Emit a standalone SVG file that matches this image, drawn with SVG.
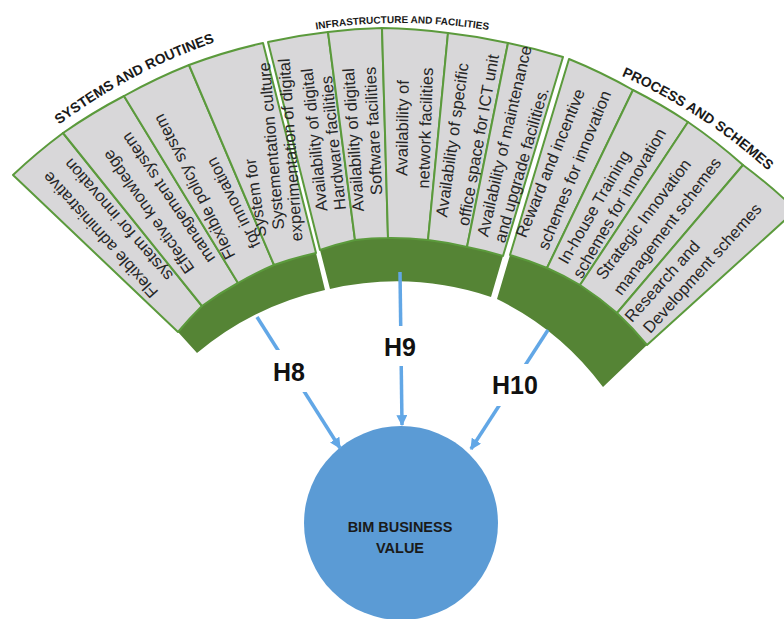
<svg xmlns="http://www.w3.org/2000/svg" width="784" height="619" viewBox="0 0 784 619">
<defs>
<style>
.cell{fill:#d8d7d9;stroke:#5b9a3c;stroke-width:2;stroke-linejoin:round}
.band{fill:#558435}
.t{font-family:"Liberation Sans",Arial,sans-serif;font-size:16.5px;fill:#262626;text-anchor:middle;dominant-baseline:central}
.title{font-family:"Liberation Sans",Arial,sans-serif;font-weight:bold;fill:#1a1a1a;text-anchor:middle}
.arrow{stroke:#62a7e6;stroke-width:3.5;fill:none;marker-end:url(#ah)}
.hl{font-family:"Liberation Sans",Arial,sans-serif;font-weight:bold;font-size:25px;fill:#111;text-anchor:middle}
.lblbox{fill:#fff}
</style>
<marker id="ah" viewBox="0 0 10 10" refX="9" refY="5" markerWidth="11" markerHeight="11" markerUnits="userSpaceOnUse" orient="auto">
<path d="M0,0 L10,5 L0,10 Z" fill="#62a7e6"/>
</marker>
<path id="arcL" d="M -7.9,184.1 A 567 567 0 0 1 301.5,19.6"/>
<path id="arcM" d="M 210.2,56.5 A 555 555 0 0 1 589.8,56.5"/>
<path id="arcR" d="M 542.1,47.7 A 549 549 0 0 1 849.7,263.1"/>
</defs>
<rect width="784" height="619" fill="#fff"/>

<g id="bands">
<path class="band" d="M 178,332 A 336 336 0 0 1 202,306 A 336 336 0 0 1 238,283 A 336 336 0 0 1 274,265 A 336 336 0 0 1 316,253 L 325,290 A 300 300 0 0 0 197,353 Z"/>
<path class="band" d="M 320,250 A 338 338 0 0 1 355,240 A 338 338 0 0 1 388,238 A 338 338 0 0 1 428,240 A 338 338 0 0 1 467,247 A 338 338 0 0 1 503,256 L 491,297 A 298 298 0 0 0 330,289 Z"/>
<path class="band" d="M 510,255 A 342 342 0 0 1 547,268 A 342 342 0 0 1 580,285 A 342 342 0 0 1 617,313 A 342 342 0 0 1 647,345 L 603,387 A 290 290 0 0 0 497,299 Z"/>
</g>

<g id="title-systems"><text class="title" font-size="14"><textPath href="#arcL" startOffset="178">SYSTEMS AND ROUTINES</textPath></text></g>
<g id="title-infra"><text class="title" font-size="10"><textPath href="#arcM" startOffset="196">INFRASTRUCTURE AND FACILITIES</textPath></text></g>
<g id="title-process"><text class="title" font-size="14"><textPath href="#arcR" startOffset="172">PROCESS AND SCHEMES</textPath></text></g>

<g id="cell-L1">
<path class="cell" d="M 13,175 A 555 555 0 0 1 63,133 L 202,306 A 336 336 0 0 0 178,332 Z"/>
<text class="t" transform="translate(100,235) rotate(-132)">Flexible administrative</text>
<text class="t" transform="translate(118,220) rotate(-131)">system for innovation</text>
</g>
<g id="cell-L2">
<path class="cell" d="M 63,133 A 555 555 0 0 1 124,96 L 238,283 A 336 336 0 0 0 202,306 Z"/>
<text class="t" transform="translate(148,212) rotate(-125)">Effective knowledge</text>
<text class="t" transform="translate(168,198) rotate(-124)">management system</text>
</g>
<g id="cell-L3">
<path class="cell" d="M 124,96 A 555 555 0 0 1 189,65 L 274,265 A 336 336 0 0 0 238,283 Z"/>
<text class="t" transform="translate(194,187) rotate(-117)">Flexible policy system</text>
<text class="t" transform="translate(233,203) rotate(-117)">for innovation</text>
</g>
<g id="cell-L4">
<path class="cell" d="M 189,65 A 555 555 0 0 1 263,43 L 316,253 A 336 336 0 0 0 274,265 Z"/>
<text class="t" transform="translate(255,198) rotate(-98)">System for</text>
<text class="t" transform="translate(271,146) rotate(-95)">Systementation culture</text>
</g>

<g id="cell-M1">
<path class="cell" d="M 268,42 A 550 550 0 0 1 328,32 L 355,240 A 338 338 0 0 0 320,250 Z"/>
<text class="t" transform="translate(314,140) rotate(-96)">Availability of digital</text>
<text class="t" transform="translate(333,143) rotate(-96)">Hardware facilities</text>
</g>
<g id="cell-M2">
<path class="cell" d="M 328,32 A 550 550 0 0 1 382,28 L 388,238 A 338 338 0 0 0 355,240 Z"/>
<text class="t" transform="translate(353,140) rotate(-94)">Availability of digital</text>
<text class="t" transform="translate(373,131) rotate(-93)">Software facilities</text>
</g>
<g id="cell-M3">
<path class="cell" d="M 382,28 A 550 550 0 0 1 448,33 L 428,240 A 338 338 0 0 0 388,238 Z"/>
<text class="t" transform="translate(402,128) rotate(-89)">Availability of</text>
<text class="t" transform="translate(425,128) rotate(-88)">network facilities</text>
</g>
<g id="cell-M4">
<path class="cell" d="M 448,33 A 550 550 0 0 1 508,43 L 467,247 A 338 338 0 0 0 428,240 Z"/>
<text class="t" transform="translate(452,140) rotate(-82)">Availability of specific</text>
<text class="t" transform="translate(478,140) rotate(-80)">office space for ICT unit</text>
</g>
<g id="cell-M5">
<path class="cell" d="M 508,43 A 550 550 0 0 1 563,57 L 503,256 A 338 338 0 0 0 467,247 Z"/>
<text class="t" transform="translate(504,141) rotate(-77)">Availability of maintenance</text>
<text class="t" transform="translate(521,165) rotate(-74)">and upgrade facilities.</text>
</g>
<g id="cell-L4-extra">
<text class="t" transform="translate(290,150) rotate(-94)">experimentation of digital</text>
</g>

<g id="cell-R1">
<path class="cell" d="M 569,59 A 543 543 0 0 1 633,90 L 547,268 A 342 342 0 0 0 510,255 Z"/>
<text class="t" transform="translate(550,163) rotate(-68)">Reward and incentive</text>
<text class="t" transform="translate(574,170) rotate(-68)">schemes for innovation</text>
</g>
<g id="cell-R2">
<path class="cell" d="M 633,90 A 543 543 0 0 1 688,122 L 580,285 A 342 342 0 0 0 547,268 Z"/>
<text class="t" transform="translate(594,207) rotate(-60)">In-house Training</text>
<text class="t" transform="translate(619,203) rotate(-60)">schemes for innovation</text>
</g>
<g id="cell-R3">
<path class="cell" d="M 688,122 A 543 543 0 0 1 743,165 L 617,313 A 342 342 0 0 0 580,285 Z"/>
<text class="t" transform="translate(643,219) rotate(-53)">Strategic Innovation</text>
<text class="t" transform="translate(667,226) rotate(-53)">management schemes</text>
</g>
<g id="cell-R4">
<path class="cell" d="M 743,165 A 543 543 0 0 1 796,210 L 647,345 A 342 342 0 0 0 617,313 Z"/>
<text class="t" transform="translate(662,281) rotate(-48)">Research and</text>
<text class="t" transform="translate(702,268) rotate(-48)">Development schemes</text>
</g>

<g id="node-bim">
<circle cx="401" cy="523" r="97" fill="#5b9bd5"/>
<text class="title" font-size="14.5" x="400" y="532">BIM BUSINESS</text>
<text class="title" font-size="14.5" x="400" y="553">VALUE</text>
</g>

<g id="connectors">
<line class="arrow" x1="257" y1="317" x2="340" y2="448"/>
<line class="arrow" x1="400" y1="272" x2="402" y2="425"/>
<line class="arrow" x1="548" y1="330" x2="471" y2="449"/>
<g id="label-H8"><rect class="lblbox" x="266" y="350" width="44" height="42"/><text class="hl" x="289" y="381">H8</text></g>
<g id="label-H9"><rect class="lblbox" x="377" y="326" width="46" height="40"/><text class="hl" x="400" y="356">H9</text></g>
<g id="label-H10"><rect class="lblbox" x="484" y="364" width="62" height="42"/><text class="hl" x="515" y="394">H10</text></g>
</g>
</svg>
